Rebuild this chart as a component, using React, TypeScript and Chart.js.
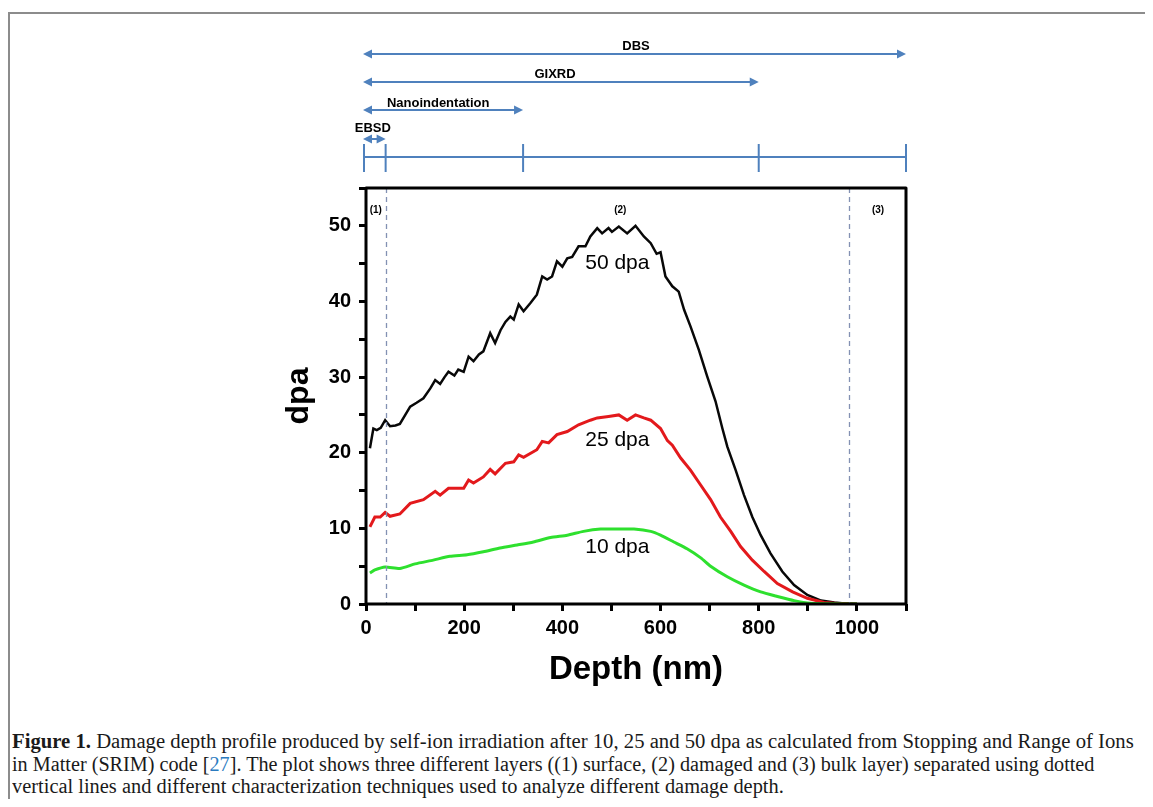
import React, { useEffect, useRef } from 'react';
import { Chart, registerables } from 'chart.js';

Chart.register(...registerables);

// ---- data (depth in nm, damage in dpa) ----
const depth50 = [8, 15, 22, 30, 39, 49, 60, 69, 80, 90, 103, 117, 131, 141, 151, 160, 168, 180, 188, 199, 209, 219, 230, 239, 253, 263, 274, 284, 294, 301, 311, 321, 335, 348, 359, 369, 379, 389, 400, 410, 420, 433, 447, 457, 471, 481, 494, 501, 515, 532, 549, 566, 580, 592, 600, 610, 624, 637, 648, 661, 678, 695, 712, 726, 736, 753, 770, 787, 804, 824, 848, 872, 899, 927, 954, 980, 1000];
const dpa50 = [20.6, 23.2, 23.0, 23.3, 24.3, 23.5, 23.6, 23.8, 25.0, 26.1, 26.6, 27.2, 28.5, 29.6, 29.1, 30.0, 30.7, 30.2, 31.0, 30.7, 32.7, 32.1, 33.0, 33.4, 35.8, 34.5, 36.2, 37.3, 38.0, 37.6, 39.6, 38.7, 39.8, 40.9, 43.3, 42.9, 43.3, 45.3, 44.6, 45.7, 45.9, 47.3, 47.3, 48.6, 49.7, 49.0, 49.7, 49.2, 49.9, 49.0, 50.0, 48.6, 47.7, 46.3, 46.5, 43.3, 42.0, 41.3, 38.9, 36.7, 33.6, 30.1, 26.8, 23.2, 20.8, 17.7, 14.4, 11.5, 9.1, 6.7, 4.3, 2.5, 1.2, 0.45, 0.2, 0.05, 0];

const depth25 = [8, 18, 29, 39, 49, 69, 90, 117, 141, 151, 168, 199, 209, 219, 239, 253, 263, 284, 301, 311, 321, 348, 359, 372, 389, 410, 433, 457, 471, 494, 515, 532, 549, 566, 580, 600, 614, 624, 641, 661, 682, 702, 722, 743, 763, 787, 811, 838, 869, 899, 933, 967, 1000];
const dpa25 = [10.2, 11.5, 11.5, 12.1, 11.6, 11.9, 13.3, 13.8, 14.9, 14.4, 15.3, 15.3, 16.4, 16.0, 16.8, 17.8, 17.2, 18.6, 18.8, 19.7, 19.4, 20.4, 21.5, 21.3, 22.4, 22.8, 23.7, 24.3, 24.6, 24.8, 25.0, 24.3, 25.0, 24.6, 24.3, 23.2, 21.6, 21.0, 19.3, 17.7, 15.7, 13.8, 11.5, 9.6, 7.6, 5.8, 4.3, 2.7, 1.6, 0.75, 0.2, 0.05, 0];

const depth10 = [8, 18, 39, 69, 100, 137, 171, 206, 239, 273, 308, 341, 376, 410, 443, 478, 512, 546, 580, 600, 627, 654, 682, 702, 736, 770, 804, 838, 872, 906, 950, 1000];
const dpa10 = [4.1, 4.5, 4.9, 4.7, 5.3, 5.8, 6.3, 6.5, 6.9, 7.4, 7.8, 8.2, 8.8, 9.1, 9.6, 9.9, 9.9, 9.9, 9.6, 9.1, 8.2, 7.3, 6.1, 5.0, 3.6, 2.5, 1.6, 1.0, 0.45, 0.1, 0.02, 0];

const seriesNames = ['10 dpa', '25 dpa', '50 dpa'];
const seriesLabelDepth = [512, 512, 512];
const seriesLabelDpa = [7.5, 21.7, 45.0];

// layer separators and labels
const layerBounds = [40, 983];
const layerLabels = ['(1)', '(2)', '(3)'];
const layerLabelDepths = [20, 518, 1043];

// characterization techniques (depth reach)
const techniques = ['DBS', 'GIXRD', 'Nanoindentation', 'EBSD'];
const techniqueEnds = [1100, 800, 320, 40];
const techniqueLabelDepths = [550, 385, 147, 14];
const scaleMarks = [0, 40, 320, 800, 1100];

const xLabelled = [0, 200, 400, 600, 800, 1000];
const yLabelled = [0, 10, 20, 30, 40, 50];

const captionLines = [
  'Damage depth profile produced by self-ion irradiation after 10, 25 and 50 dpa as calculated from Stopping and Range of Ions',
  'The plot shows three different layers ((1) surface, (2) damaged and (3) bulk layer) separated using dotted',
  'vertical lines and different characterization techniques used to analyze different damage depth.',
];

const toPoints = (xs: number[], ys: number[]) => xs.map((x, i) => ({ x, y: ys[i] }));

const SANS = '"Liberation Sans", Arial, sans-serif';

const overlay = {
  id: 'overlay',
  afterDatasetsDraw(chart: any) {
    const { ctx, chartArea: a, scales } = chart;
    const x = scales.x;
    const y = scales.y;
    ctx.save();
    // dashed layer separators
    ctx.strokeStyle = '#8391b3';
    ctx.lineWidth = 1.3;
    ctx.setLineDash([5, 4]);
    layerBounds.forEach((d) => {
      const px = Math.round(x.getPixelForValue(d)) + 0.5;
      ctx.beginPath();
      ctx.moveTo(px, a.top);
      ctx.lineTo(px, a.bottom);
      ctx.stroke();
    });
    ctx.setLineDash([]);
    // frame
    ctx.strokeStyle = '#000';
    ctx.lineWidth = 3;
    ctx.lineJoin = 'round';
    ctx.strokeRect(a.left, a.top, a.right - a.left, a.bottom - a.top);
    // layer labels
    ctx.fillStyle = '#000';
    ctx.textAlign = 'center';
    ctx.textBaseline = 'middle';
    ctx.font = 'bold 10px ' + SANS;
    layerLabels.forEach((t, i) => ctx.fillText(t, x.getPixelForValue(layerLabelDepths[i]), a.top + 22));
    // series labels
    ctx.font = '21px ' + SANS;
    seriesNames.forEach((t, i) =>
      ctx.fillText(t, x.getPixelForValue(seriesLabelDepth[i]), y.getPixelForValue(seriesLabelDpa[i]))
    );
    // technique arrows
    const blue = '#4f81bd';
    ctx.strokeStyle = blue;
    ctx.fillStyle = blue;
    ctx.lineWidth = 2;
    const arrowY = [-134, -106, -78, -49];
    const labelY = [-142, -114, -85, -60];
    const head = (px: number, py: number, dir: number) => {
      ctx.beginPath();
      ctx.moveTo(px, py);
      ctx.lineTo(px - dir * 9, py - 4.5);
      ctx.lineTo(px - dir * 9, py + 4.5);
      ctx.closePath();
      ctx.fill();
    };
    techniques.forEach((t, i) => {
      const x0 = x.getPixelForValue(0) - 3;
      const x1 = x.getPixelForValue(techniqueEnds[i]);
      const py = a.top + arrowY[i];
      ctx.beginPath();
      ctx.moveTo(x0 + 4, py);
      ctx.lineTo(x1 - 4, py);
      ctx.stroke();
      head(x0, py, -1);
      head(x1, py, 1);
    });
    // scale bar with marks
    const by = a.top - 31;
    ctx.beginPath();
    ctx.moveTo(x.getPixelForValue(0) - 2, by);
    ctx.lineTo(x.getPixelForValue(1100), by);
    ctx.stroke();
    scaleMarks.forEach((d, i) => {
      const px = x.getPixelForValue(d) - (i === 0 ? 2 : 0);
      ctx.beginPath();
      ctx.moveTo(px, a.top - 44);
      ctx.lineTo(px, a.top - 16);
      ctx.stroke();
    });
    // technique labels
    ctx.fillStyle = '#000';
    ctx.font = 'bold 13px ' + SANS;
    techniques.forEach((t, i) => ctx.fillText(t, x.getPixelForValue(techniqueLabelDepths[i]), a.top + labelY[i]));
    ctx.restore();
  },
};

const lineStyle = (sx: number): React.CSSProperties => ({
  display: 'block',
  width: 'max-content',
  transform: `scaleX(${sx})`,
  transformOrigin: 'left center',
});

export default function App() {
  const ref = useRef<HTMLCanvasElement>(null);
  useEffect(() => {
    if (!ref.current) return;
    const chart = new Chart(ref.current, {
      type: 'line',
      data: {
        datasets: [
          { label: seriesNames[0], data: toPoints(depth10, dpa10), borderColor: '#2ee02e', borderWidth: 3, pointRadius: 0, tension: 0.2, fill: false },
          { label: seriesNames[1], data: toPoints(depth25, dpa25), borderColor: '#e3191c', borderWidth: 3, pointRadius: 0, tension: 0, fill: false },
          { label: seriesNames[2], data: toPoints(depth50, dpa50), borderColor: '#080808', borderWidth: 2.5, pointRadius: 0, tension: 0, fill: false },
        ],
      },
      options: {
        animation: false,
        responsive: false,
        layout: { padding: { left: 272, right: 247, top: 180, bottom: 18 } },
        plugins: { legend: { display: false }, tooltip: { enabled: false } },
        scales: {
          x: {
            type: 'linear',
            min: 0,
            max: 1100,
            afterFit: (s: any) => { s.height = 86; },
            border: { display: false },
            grid: { display: true, drawOnChartArea: false, drawTicks: true, tickLength: 7, tickWidth: 3, tickColor: '#000' },
            ticks: {
              stepSize: 100,
              autoSkip: false,
              maxRotation: 0,
              padding: 5,
              color: '#000',
              font: { family: SANS, size: 20, weight: 'bold' },
              callback: (v: any) => (xLabelled.includes(Number(v)) ? String(v) : ''),
            },
            title: { display: true, text: 'Depth (nm)', color: '#000', padding: 0, font: { family: SANS, size: 33, weight: 'bold' } },
          },
          y: {
            type: 'linear',
            min: 0,
            max: 55,
            afterFit: (s: any) => { s.width = 86; },
            border: { display: false },
            grid: { display: true, drawOnChartArea: false, drawTicks: true, tickLength: 7, tickWidth: 3, tickColor: '#000' },
            ticks: {
              stepSize: 5,
              autoSkip: false,
              padding: 8,
              color: '#000',
              font: { family: SANS, size: 20, weight: 'bold' },
              callback: (v: any) => (yLabelled.includes(Number(v)) ? String(v) : ''),
            },
            title: { display: true, text: 'dpa', color: '#000', padding: 0, font: { family: SANS, size: 32, weight: 'bold' } },
          },
        },
      },
      plugins: [overlay],
    } as any);
    return () => chart.destroy();
  }, []);

  return (
    <div style={{ position: 'relative', width: 1145, height: 791, overflow: 'hidden', background: '#fff' }}>
      <div style={{ position: 'absolute', left: 0, top: 4, width: 2000, height: 2000, borderLeft: '2px solid #8c8c8c', borderTop: '2px solid #8c8c8c' }} />
      <canvas ref={ref} width={1145} height={700} style={{ position: 'absolute', left: 0, top: 0, width: 1145, height: 700 }} />
      <div
        style={{
          position: 'absolute',
          left: 4,
          top: 722,
          fontFamily: '"Liberation Serif", "Times New Roman", serif',
          fontSize: 20,
          lineHeight: '22.5px',
          color: '#1a1a1a',
          whiteSpace: 'nowrap',
        }}
      >
        <span style={lineStyle(1.035)}><b>Figure 1.</b> {captionLines[0]}</span>
        <span style={lineStyle(1.01)}>in Matter (SRIM) code [<span style={{ color: '#2b7bbf' }}>27</span>]. {captionLines[1]}</span>
        <span style={lineStyle(1.02)}>{captionLines[2]}</span>
      </div>
    </div>
  );
}
